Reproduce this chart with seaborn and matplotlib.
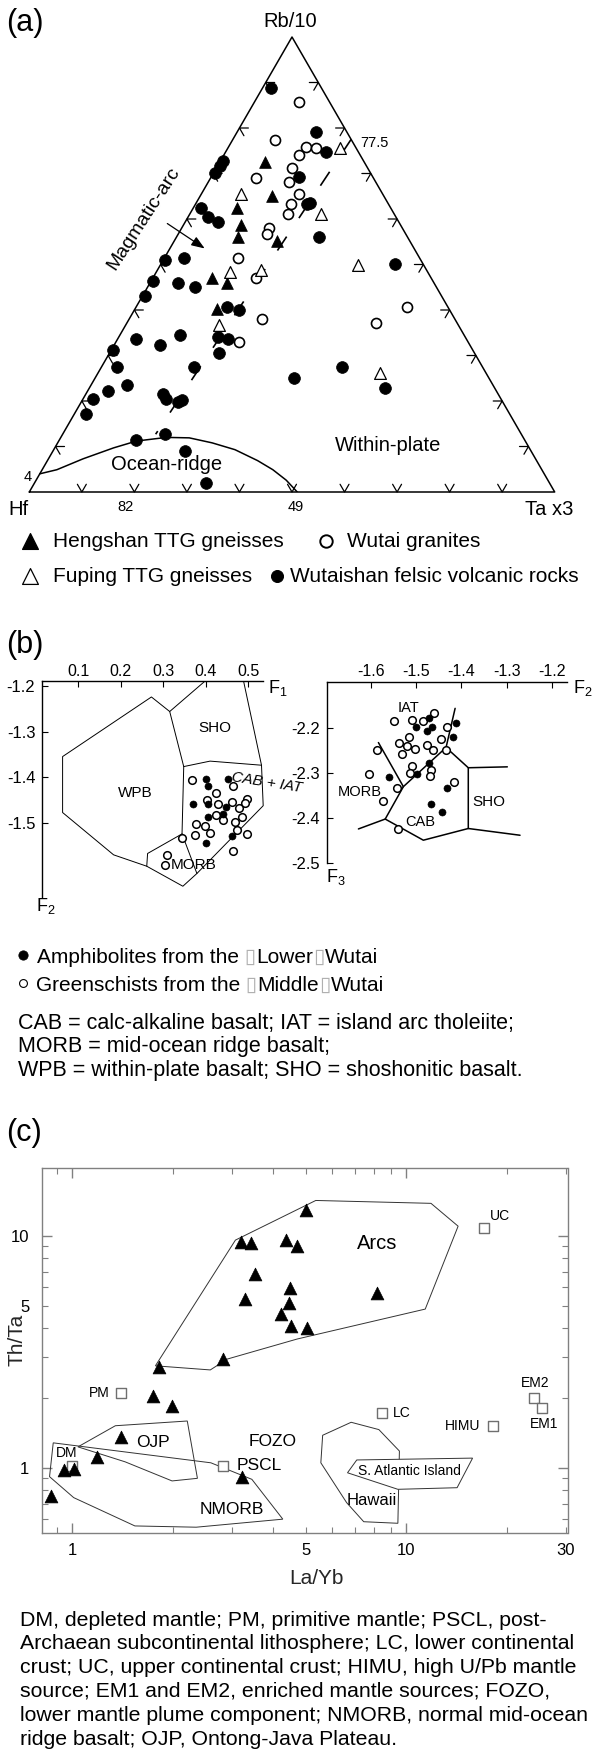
import numpy as np
import matplotlib
matplotlib.use("Agg")
import matplotlib.pyplot as plt
import seaborn as sns
from matplotlib.ticker import FixedLocator, FuncFormatter

# ---------------- Panel (a): ternary Hf - Rb/10 - Ta*3 (values in %, Hf = 100 - Rb - Ta)
hengshan_rb = [72.5, 65.0, 62.4, 58.7, 56.1, 55.2, 47.1, 45.9, 40.2]
hengshan_ta = [8.6, 13.7, 8.3, 10.9, 11.6, 19.5, 11.3, 14.6, 15.6]

fuping_rb = [75.5, 65.6, 61.0, 50.0, 48.3, 48.9, 36.8, 26.2]
fuping_ta = [21.4, 7.4, 25.1, 37.6, 14.1, 19.6, 17.8, 53.6]

granite_rb = [85.8, 77.4, 75.8, 75.6, 74.0, 71.3, 69.0, 68.2, 65.6, 63.2,
              61.0, 58.0, 56.7, 51.4, 47.1, 38.0, 32.9, 40.6, 37.1]
granite_ta = [8.5, 8.1, 14.8, 16.7, 14.4, 14.4, 8.7, 15.3, 18.6, 18.2,
              18.8, 16.6, 16.8, 14.1, 19.6, 25.2, 23.4, 51.6, 47.5]

felsic_rb = [88.8, 79.1, 74.7, 72.7, 71.7, 70.1, 69.3, 63.6, 63.2, 62.4,
             60.5, 59.4, 56.1, 50.1, 50.9, 51.4, 46.3, 45.9, 45.1, 43.1,
             40.6, 40.0, 34.5, 33.7, 32.3, 34.1, 33.7, 31.3, 30.6, 27.4,
             27.4, 23.5, 22.3, 20.5, 17.1, 21.5, 20.5, 19.7, 20.3, 27.4,
             25.0, 22.9, 11.4, 12.8, 9.1, 2.0]
felsic_ta = [1.6, 15.1, 19.2, 0.6, 0.5, 0.3, 16.7, 21.7, 21.2, 1.4,
             3.8, 6.3, 27.1, 44.6, 0.4, 3.7, 0.4, 5.4, 9.0, 0.5,
             17.4, 20.0, 11.4, 3.5, 8.7, 18.8, 20.9, 0.3, 20.8, 2.9,
             17.6, 6.9, 3.9, 1.9, 2.3, 14.7, 15.7, 18.4, 18.9, 45.8,
             37.8, 56.2, 14.7, 19.4, 25.0, 32.7]

ridge_rb = [4.0, 4.9, 7.3, 9.7, 11.2, 12.0, 11.9, 10.8, 9.3, 6.9, 4.9, 2.6, 0.0]
ridge_ta = [0.0, 2.8, 6.6, 11.2, 14.8, 20.1, 24.5, 29.4, 34.5, 40.0, 43.9, 47.6, 51.0]

arcwp_rb = [77.5, 12.7]
arcwp_ta = [22.5, 17.7]

# ---------------- Panel (b): discriminant functions
b1_amph_x = [0.400, 0.453, 0.404, 0.369, 0.404, 0.447, 0.406, 0.440, 0.400, 0.462]
b1_amph_y = [-1.405, -1.405, -1.420, -1.460, -1.460, -1.465, -1.487, -1.482, -1.544, -1.530]
b1_green_x = [0.368, 0.463, 0.424, 0.402, 0.428, 0.461, 0.496, 0.492, 0.479, 0.425, 0.440, 0.484,
              0.469, 0.376, 0.398, 0.410, 0.375, 0.473, 0.496, 0.343, 0.465, 0.308, 0.304]
b1_green_y = [-1.407, -1.419, -1.434, -1.451, -1.460, -1.454, -1.449, -1.458, -1.469, -1.484, -1.495, -1.487,
              -1.498, -1.504, -1.507, -1.522, -1.527, -1.516, -1.526, -1.533, -1.562, -1.571, -1.593]

b1_outer_x = [0.397, 0.315, 0.272, 0.063, 0.063, 0.183, 0.261, 0.346, 0.379, 0.535, 0.531, 0.489]
b1_outer_y = [-1.19, -1.256, -1.224, -1.355, -1.478, -1.571, -1.596, -1.640, -1.612, -1.463, -1.374, -1.19]
b1_wpb_x = [0.315, 0.348, 0.344]
b1_wpb_y = [-1.256, -1.377, -1.525]
b1_cab_x = [0.348, 0.410, 0.531]
b1_cab_y = [-1.377, -1.365, -1.374]
b1_morb_x = [0.344, 0.263, 0.261]
b1_morb_y = [-1.525, -1.568, -1.596]
b1_mc_x = [0.344, 0.379]
b1_mc_y = [-1.525, -1.612]

b2_amph_x = [-1.471, -1.500, -1.477, -1.466, -1.413, -1.418, -1.471, -1.497, -1.559, -1.431, -1.468, -1.444]
b2_amph_y = [-2.179, -2.199, -2.207, -2.198, -2.190, -2.220, -2.278, -2.304, -2.309, -2.333, -2.370, -2.387]
b2_green_x = [-1.460, -1.549, -1.510, -1.485, -1.431, -1.515, -1.537, -1.521, -1.502, -1.477, -1.463, -1.446,
              -1.530, -1.587, -1.435, -1.510, -1.513, -1.468, -1.470, -1.603, -1.541, -1.416, -1.572, -1.539]
b2_green_y = [-2.167, -2.185, -2.183, -2.185, -2.198, -2.220, -2.233, -2.240, -2.248, -2.239, -2.250, -2.226,
              -2.259, -2.250, -2.250, -2.285, -2.301, -2.294, -2.307, -2.303, -2.333, -2.321, -2.364, -2.426]

b2_lines = [
    ([-1.583, -1.528], [-2.233, -2.331]),
    ([-1.528, -1.434, -1.414], [-2.331, -2.244, -2.157]),
    ([-1.528, -1.568, -1.627], [-2.331, -2.403, -2.425]),
    ([-1.568, -1.484, -1.385, -1.271], [-2.403, -2.450, -2.424, -2.439]),
    ([-1.434, -1.385, -1.385], [-2.244, -2.289, -2.424]),
    ([-1.385, -1.299], [-2.289, -2.287]),
]

# ---------------- Panel (c): Th/Ta vs La/Yb
tri_layb = [5.0, 3.21, 3.44, 4.36, 4.70, 3.52, 3.28, 4.49, 4.46, 4.23, 4.53, 5.04,
            2.83, 1.82, 1.75, 1.99, 8.17, 1.40, 1.19, 0.944, 1.01, 3.22, 0.861]
tri_thta = [12.9, 9.42, 9.33, 9.58, 9.06, 6.84, 5.32, 5.93, 5.11, 4.59, 4.08, 4.01,
            2.94, 2.71, 2.04, 1.85, 5.65, 1.36, 1.11, 0.98, 0.99, 0.91, 0.755]

res_names = ["UC", "EM2", "EM1", "LC", "HIMU", "PM", "DM", "PSCL"]
res_layb = [17.1, 24.2, 25.5, 8.49, 18.2, 1.40, 1.00, 2.83]
res_thta = [10.8, 2.00, 1.81, 1.72, 1.51, 2.09, 1.02, 1.02]

arcs_layb = [1.774, 3.08, 5.36, 11.86, 14.3, 11.4, 4.72, 2.91, 2.59]
arcs_thta = [2.75, 9.58, 14.2, 13.8, 11.0, 4.83, 3.59, 2.94, 2.64]
ojp_layb = [1.04, 1.346, 2.21, 2.37, 1.99, 1.44]
ojp_thta = [1.23, 1.517, 1.59, 0.90, 0.877, 1.06]
nmorb_layb = [0.877, 2.60, 3.45, 4.27, 2.35, 1.54, 1.01, 0.855]
nmorb_thta = [1.28, 1.05, 0.891, 0.60, 0.554, 0.561, 0.743, 0.915]
hawaii_layb = [5.62, 6.84, 8.28, 9.54, 9.44, 7.46, 6.63, 5.55]
hawaii_thta = [1.38, 1.57, 1.46, 1.18, 0.576, 0.585, 0.707, 1.05]
satl_layb = [7.11, 15.8, 14.2, 9.44, 6.67]
satl_thta = [1.08, 1.10, 0.82, 0.807, 0.951]

# ---------------- style
sns.set_style("white")
plt.rcParams["font.family"] = ["Liberation Sans", "DejaVu Sans"]
plt.rcParams["mathtext.default"] = "regular"
plt.rcParams["axes.unicode_minus"] = False
plt.rcParams["lines.scale_dashes"] = False
plt.rcParams["text.color"] = "black"
plt.rcParams["xtick.color"] = "black"
plt.rcParams["ytick.color"] = "black"

W, H = 593, 1751
fig = plt.figure(figsize=(W / 100, H / 100), dpi=100)


def box(l, t, r, b):
    return [l / W, 1 - b / H, (r - l) / W, (b - t) / H]


S3 = np.sqrt(3) / 2


def tern(rb, ta):
    rb = np.asarray(rb, float) / 100
    ta = np.asarray(ta, float) / 100
    return ta + rb / 2, rb * S3


# ================= Panel (a)
axa = fig.add_axes(box(29.3, 37, 554.7, 492))
axa.set_xlim(0, 1)
axa.set_ylim(0, S3)
axa.axis("off")
axa.plot([0, 1, 0.5, 0], [0, 0, S3, 0], color="black", lw=1.1, clip_on=False)
L = 0.017
for i in range(1, 10):
    f = i / 10
    for (vx, vy), angs in [((f, 0.0), (60, 120)),
                           ((1 - f / 2, f * S3), (180, 240)),
                           ((f / 2, f * S3), (0, 300))]:
        a1, a2 = np.radians(angs)
        axa.plot([vx + L * np.cos(a1), vx, vx + L * np.cos(a2)],
                 [vy + L * np.sin(a1), vy, vy + L * np.sin(a2)],
                 color="black", lw=0.9, clip_on=False)

rx, ry = tern(ridge_rb, ridge_ta)
axa.plot(rx, ry, color="black", lw=1.1)
dx, dy = tern(arcwp_rb, arcwp_ta)
axa.plot(dx, dy, color="black", lw=1.2, dashes=(12, 16))

x, y = tern(felsic_rb, felsic_ta)
sns.scatterplot(x=x, y=y, ax=axa, marker="o", s=72, color="black", edgecolor="black",
                linewidth=0.5, zorder=3, clip_on=False, legend=False)
x, y = tern(granite_rb, granite_ta)
sns.scatterplot(x=x, y=y, ax=axa, marker="o", s=52, color="white", edgecolor="black",
                linewidth=1.2, zorder=3, clip_on=False, legend=False)
x, y = tern(hengshan_rb, hengshan_ta)
sns.scatterplot(x=x, y=y, ax=axa, marker="^", s=72, color="black", edgecolor="black",
                linewidth=0.5, zorder=3, clip_on=False, legend=False)
x, y = tern(fuping_rb, fuping_ta)
sns.scatterplot(x=x, y=y, ax=axa, marker="^", s=72, color="white", edgecolor="black",
                linewidth=0.9, zorder=3, clip_on=False, legend=False)

# ================= Panel (b) left
axb1 = fig.add_axes(box(42.2, 681.5, 263.2, 896.7))
axb1.set_xlim(0.015, 0.535)
axb1.set_ylim(-1.663, -1.19)
axb1.patch.set_alpha(0)
for sp in ["right", "bottom"]:
    axb1.spines[sp].set_visible(False)
for sp in ["top", "left"]:
    axb1.spines[sp].set_color("black")
    axb1.spines[sp].set_linewidth(1.0)
axb1.xaxis.tick_top()
axb1.set_xticks([0.1, 0.2, 0.3, 0.4, 0.5])
axb1.set_xticklabels(["0.1", "0.2", "0.3", "0.4", "0.5"])
axb1.set_yticks([-1.2, -1.3, -1.4, -1.5])
axb1.set_yticklabels(["-1.2", "-1.3", "-1.4", "-1.5"])
axb1.tick_params(axis="x", which="both", top=True, bottom=False, direction="in",
                 length=4, width=0.8, labelsize=11.5, pad=2)
axb1.tick_params(axis="y", which="both", left=True, direction="in",
                 length=4, width=0.8, labelsize=12, pad=5)
for xs, ys in [(b1_outer_x, b1_outer_y), (b1_wpb_x, b1_wpb_y), (b1_cab_x, b1_cab_y),
               (b1_morb_x, b1_morb_y), (b1_mc_x, b1_mc_y)]:
    axb1.plot(xs, ys, color="black", lw=0.7, clip_on=False)
sns.scatterplot(x=b1_green_x, y=b1_green_y, ax=axb1, marker="o", s=30, color="white",
                edgecolor="black", linewidth=1.1, zorder=3, legend=False)
sns.scatterplot(x=b1_amph_x, y=b1_amph_y, ax=axb1, marker="o", s=26, color="black",
                edgecolor="black", linewidth=0.4, zorder=3, legend=False)
axb1.text(0.422, -1.293, "SHO", ha="center", va="center", fontsize=11)
axb1.text(0.233, -1.436, "WPB", ha="center", va="center", fontsize=11)
axb1.text(0.372, -1.593, "MORB", ha="center", va="center", fontsize=11)
axb1.text(0.543, -1.413, "CAB + IAT", ha="center", va="center", fontsize=11,
          style="italic", rotation=-9, clip_on=False)

# ================= Panel (b) right
axb2 = fig.add_axes(box(327.1, 681.8, 566.8, 862.7))
axb2.set_xlim(-1.696, -1.168)
axb2.set_ylim(-2.5, -2.098)
axb2.patch.set_alpha(0)
for sp in ["right", "bottom"]:
    axb2.spines[sp].set_visible(False)
for sp in ["top", "left"]:
    axb2.spines[sp].set_color("black")
    axb2.spines[sp].set_linewidth(1.0)
axb2.xaxis.tick_top()
axb2.set_xticks([-1.6, -1.5, -1.4, -1.3, -1.2])
axb2.set_xticklabels(["-1.6", "-1.5", "-1.4", "-1.3", "-1.2"])
axb2.set_yticks([-2.2, -2.3, -2.4, -2.5])
axb2.set_yticklabels(["-2.2", "-2.3", "-2.4", "-2.5"])
axb2.tick_params(axis="x", which="both", top=True, bottom=False, direction="in",
                 length=4, width=0.8, labelsize=11.5, pad=2)
axb2.tick_params(axis="y", which="both", left=True, direction="in",
                 length=4, width=0.8, labelsize=12, pad=5)
for xs, ys in b2_lines:
    axb2.plot(xs, ys, color="black", lw=1.1)
sns.scatterplot(x=b2_green_x, y=b2_green_y, ax=axb2, marker="o", s=30, color="white",
                edgecolor="black", linewidth=1.1, zorder=3, legend=False)
sns.scatterplot(x=b2_amph_x, y=b2_amph_y, ax=axb2, marker="o", s=26, color="black",
                edgecolor="black", linewidth=0.4, zorder=3, legend=False)
axb2.text(-1.516, -2.157, "IAT", ha="center", va="center", fontsize=10.5)
axb2.text(-1.625, -2.344, "MORB", ha="center", va="center", fontsize=10.5)
axb2.text(-1.490, -2.409, "CAB", ha="center", va="center", fontsize=10.5)
axb2.text(-1.339, -2.364, "SHO", ha="center", va="center", fontsize=11)

# ================= Panel (c)
axc = fig.add_axes(box(41.7, 1168, 567.5, 1533))
axc.set_xscale("log")
axc.set_yscale("log")
axc.set_xlim(0.81, 30.4)
axc.set_ylim(0.523, 19.6)
for sp in axc.spines.values():
    sp.set_color("#808080")
    sp.set_linewidth(1.0)
axc.xaxis.set_major_locator(FixedLocator([1, 10]))
axc.xaxis.set_minor_locator(FixedLocator([0.9, 2, 3, 4, 5, 6, 7, 8, 9, 20, 30]))
axc.xaxis.set_major_formatter(FuncFormatter(lambda v, p: f"{v:g}"))
axc.xaxis.set_minor_formatter(FuncFormatter(lambda v, p: f"{v:g}" if v in (5, 30) else ""))
axc.yaxis.set_major_locator(FixedLocator([1, 10]))
axc.yaxis.set_minor_locator(FixedLocator([0.6, 0.7, 0.8, 0.9, 2, 3, 4, 5, 6, 7, 8, 9]))
axc.yaxis.set_major_formatter(FuncFormatter(lambda v, p: f"{v:g}"))
axc.yaxis.set_minor_formatter(FuncFormatter(lambda v, p: f"{v:g}" if v == 5 else ""))
axc.tick_params(which="both", direction="in", top=True, right=True, bottom=True, left=True,
                color="#808080", labelsize=12)
axc.tick_params(which="major", length=7, width=1.0)
axc.tick_params(which="minor", length=4, width=0.8)
axc.tick_params(axis="x", which="both", pad=7)
axc.tick_params(axis="y", which="both", pad=9)

for xs, ys in [(arcs_layb, arcs_thta), (ojp_layb, ojp_thta), (nmorb_layb, nmorb_thta),
               (hawaii_layb, hawaii_thta)]:
    axc.fill(xs, ys, facecolor="none", edgecolor="#333333", lw=0.7, zorder=1)
axc.fill(satl_layb, satl_thta, facecolor="white", edgecolor="#333333", lw=0.7, zorder=1.5)

sns.scatterplot(x=res_layb, y=res_thta, ax=axc, marker="s", s=55, color="white",
                edgecolor="#6f6f6f", linewidth=1.0, zorder=3, legend=False)
sns.scatterplot(x=tri_layb, y=tri_thta, ax=axc, marker="^", s=85, color="black",
                edgecolor="black", linewidth=0.5, zorder=4, legend=False)

res_off = {"UC": (6, -12, "left", 10), "EM2": (1, -15, "center", 10), "EM1": (2, 16, "center", 10),
           "LC": (10, 0, "left", 10), "HIMU": (-13, 0, "right", 10), "PM": (-11, 0, "right", 10),
           "DM": (-6, -13, "center", 10), "PSCL": (13, 0, "left", 12.5)}
for n, lx, ly in zip(res_names, res_layb, res_thta):
    ox, oy, ha, fs = res_off[n]
    axc.annotate(n, (lx, ly), xytext=(ox, -oy), textcoords="offset pixels",
                 ha=ha, va="center", fontsize=fs, zorder=5)

axc.text(8.17, 9.27, "Arcs", ha="center", va="center", fontsize=14.5)
axc.text(1.75, 1.28, "OJP", ha="center", va="center", fontsize=12.5)
axc.text(3.97, 1.30, "FOZO", ha="center", va="center", fontsize=12.5)
axc.text(3.0, 0.66, "NMORB", ha="center", va="center", fontsize=12.5)
axc.text(10.2, 0.967, "S. Atlantic Island", ha="center", va="center", fontsize=10, zorder=2)
axc.text(7.9, 0.719, "Hawaii", ha="center", va="center", fontsize=12)
axc.set_xlabel("La/Yb", fontsize=15)
axc.set_ylabel("Th/Ta", fontsize=15)
axc.xaxis.set_label_coords((316 - 41.7) / (567.5 - 41.7), -(1579 - 1533) / 365)
axc.xaxis.label.set_va("center")
axc.yaxis.set_label_coords(-(41.7 - 17) / (567.5 - 41.7), (1533 - 1340) / 365)
axc.yaxis.label.set_va("center")

# ================= overlay for panel labels, legends and captions
ov = fig.add_axes([0, 0, 1, 1])
ov.set_xlim(0, W)
ov.set_ylim(H, 0)
ov.axis("off")
ov.patch.set_alpha(0)

ov.text(6, 23, "(a)", fontsize=22, va="center", ha="left")
ov.text(6, 645, "(b)", fontsize=22, va="center", ha="left")
ov.text(6, 1133, "(c)", fontsize=22, va="center", ha="left")

ov.text(290, 21.5, "Rb/10", fontsize=14.5, ha="center", va="center")
ov.text(18, 509, "Hf", fontsize=14.5, ha="center", va="center")
ov.text(549, 509, "Ta x3", fontsize=14.5, ha="center", va="center")
ov.text(126, 507, "82", fontsize=10.5, ha="center", va="center")
ov.text(295.5, 507, "49", fontsize=10.5, ha="center", va="center")
ov.text(374, 142.6, "77.5", fontsize=10.5, ha="center", va="center")
ov.text(28, 476.7, "4", fontsize=10.5, ha="center", va="center")
ov.text(167, 464, "Ocean-ridge", fontsize=14.5, ha="center", va="center")
ov.text(388, 445.5, "Within-plate", fontsize=14.5, ha="center", va="center")
ov.text(144, 219, "Magmatic-arc", fontsize=14, ha="center", va="center", rotation=57)
ov.annotate("", xy=(207, 250), xytext=(165, 222),
            arrowprops=dict(arrowstyle="-|>,head_length=0.8,head_width=0.3", color="black", lw=0.9))

# legend (a)
sns.scatterplot(x=[29.5], y=[541], ax=ov, marker="^", s=130, color="black", edgecolor="black", legend=False)
sns.scatterplot(x=[326], y=[541], ax=ov, marker="o", s=80, color="white", edgecolor="black",
                linewidth=1.4, legend=False)
sns.scatterplot(x=[29.5], y=[576], ax=ov, marker="^", s=130, color="white", edgecolor="black",
                linewidth=0.9, legend=False)
sns.scatterplot(x=[276.5], y=[576], ax=ov, marker="o", s=75, color="black", edgecolor="black", legend=False)
ov.set_xlim(0, W)
ov.set_ylim(H, 0)
ov.text(53, 541, "Hengshan TTG gneisses", fontsize=15, va="center")
ov.text(346.6, 541, "Wutai granites", fontsize=15, va="center")
ov.text(53, 576, "Fuping TTG gneisses", fontsize=15, va="center")
ov.text(290, 576, "Wutaishan felsic volcanic rocks", fontsize=15, va="center")

# (b) axis names
ov.text(268, 688, "F$_1$", fontsize=13, va="center", ha="left")
ov.text(573, 688, "F$_2$", fontsize=13, va="center", ha="left")
ov.text(36, 906, "F$_2$", fontsize=13, va="center", ha="left")
ov.text(326, 877, "F$_3$", fontsize=13, va="center", ha="left")

# legend (b)
sns.scatterplot(x=[22.7], y=[955], ax=ov, marker="o", s=45, color="black", edgecolor="black", legend=False)
sns.scatterplot(x=[22.7], y=[983], ax=ov, marker="o", s=32, color="white", edgecolor="black",
                linewidth=0.8, legend=False)
ov.set_xlim(0, W)
ov.set_ylim(H, 0)


def chain(x, y, parts, fs=15):
    t = ov.text(x, y, parts[0][0], color=parts[0][1], fontsize=fs, va="center", ha="left")
    for s, c in parts[1:]:
        t = ov.annotate(s, xy=(1, 0), xycoords=t, xytext=(0, 0), textcoords="offset points",
                        va="bottom", ha="left", color=c, fontsize=fs)


box_c = "#b0b0b0"
chain(37, 957, [("Amphibolites from the", "black"), (" \u25af", box_c), ("Lower", "black"),
                ("\u25af", box_c), ("Wutai", "black")])
chain(36, 985, [("Greenschists from the", "black"), (" \u25af", box_c), ("Middle", "black"),
                ("\u25af", box_c), ("Wutai", "black")])

cap_b = ["CAB = calc-alkaline basalt; IAT = island arc tholeiite;",
         "MORB = mid-ocean ridge basalt;",
         "WPB = within-plate basalt; SHO = shoshonitic basalt."]
for i, s in enumerate(cap_b):
    ov.text(18, 1023 + i * 23.5, s, fontsize=15.5, va="center", ha="left")

cap_c = ["DM, depleted mantle; PM, primitive mantle; PSCL, post-",
         "Archaean subcontinental lithosphere; LC, lower continental",
         "crust; UC, upper continental crust; HIMU, high U/Pb mantle",
         "source; EM1 and EM2, enriched mantle sources; FOZO,",
         "lower mantle plume component; NMORB, normal mid-ocean",
         "ridge basalt; OJP, Ontong-Java Plateau."]
for i, s in enumerate(cap_c):
    ov.text(20.5, 1620 + i * 23.8, s, fontsize=15.3, va="center", ha="left")

fig.savefig("out.png", dpi=100)
